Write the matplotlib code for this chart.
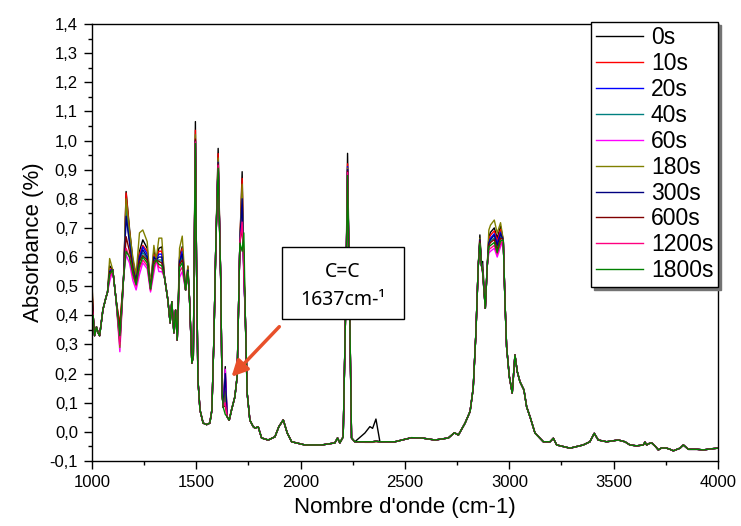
"""
FTIR spectra of the resin during curing (absorbance vs wavenumber)
"""

import numpy as np
import matplotlib
matplotlib.use('Agg')
import matplotlib.pyplot as plt
from matplotlib.patches import Rectangle
from matplotlib.ticker import MultipleLocator, FuncFormatter

plt.rcParams['font.family'] = ['Liberation Sans', 'DejaVu Sans']

# Shared spectrum (0s curve outside the zones that move)
wavenumber = [1000, 1006, 1013, 1022, 1030, 1037, 1053, 1067, 1075, 1085, 1100, 1116, 1134, 1152, 1164,
              1180, 1196, 1212, 1228, 1244, 1265, 1281, 1297, 1308, 1321, 1335, 1348, 1364, 1375, 1383,
              1393, 1401, 1409, 1420, 1433, 1449, 1460, 1468, 1479, 1486, 1491, 1496, 1501, 1508, 1518,
              1533, 1550, 1565, 1575, 1585, 1594, 1605, 1617, 1624, 1629, 1639, 1648, 1658, 1669, 1685,
              1696, 1709, 1720, 1728, 1735, 1744, 1757, 1773, 1781, 1797, 1813, 1845, 1877, 1896, 1917,
              1936, 1957, 2021, 2101, 2164, 2177, 2188, 2204, 2216, 2225, 2235, 2244, 2260, 2308, 2332,
              2345, 2361, 2380, 2452, 2532, 2580, 2644, 2708, 2737, 2756, 2788, 2812, 2827, 2840, 2851,
              2859, 2867, 2872, 2885, 2894, 2902, 2910, 2928, 2942, 2958, 2971, 2979, 2987, 3000, 3014,
              3027, 3038, 3051, 3070, 3083, 3100, 3123, 3163, 3195, 3211, 3227, 3291, 3354, 3386, 3407,
              3426, 3466, 3522, 3554, 3578, 3610, 3642, 3650, 3658, 3670, 3682, 3700, 3714, 3730, 3754,
              3770, 3786, 3818, 3834, 3858, 3900, 3930, 3970, 4000]
absorbance_base = [0.49, 0.40, 0.33, 0.36, 0.34, 0.33, 0.42, 0.46, 0.48, 0.57, 0.556, 0.453, 0.315, 0.532, 0.825,
                   0.70, 0.59, 0.53, 0.62, 0.659, 0.63, 0.50, 0.62, 0.59, 0.63, 0.635, 0.53, 0.453, 0.374, 0.447,
                   0.34, 0.418, 0.315, 0.60, 0.636, 0.487, 0.567, 0.453, 0.236, 0.26, 0.65, 1.065, 0.60, 0.18, 0.075,
                   0.03, 0.025, 0.03, 0.075, 0.33, 0.648, 0.973, 0.533, 0.133, 0.085, 0.224, 0.052, 0.04, 0.075, 0.12,
                   0.19, 0.648, 0.893, 0.55, 0.40, 0.133, 0.04, 0.018, 0.013, 0.017, -0.021, -0.028, -0.017, 0.018, 0.041,
                   -0.004, -0.034, -0.045, -0.045, -0.038, -0.021, -0.038, -0.017, 0.43, 0.956, 0.43, -0.021, -0.034, -0.034, -0.034,
                   -0.034, -0.032, -0.034, -0.034, -0.02, -0.021, -0.028, -0.021, -0.003, -0.011, 0.03, 0.07, 0.15, 0.34, 0.567,
                   0.676, 0.57, 0.585, 0.424, 0.567, 0.67, 0.685, 0.70, 0.665, 0.705, 0.659, 0.453, 0.292, 0.19, 0.133,
                   0.264, 0.207, 0.172, 0.144, 0.086, 0.05, -0.004, -0.034, -0.034, -0.022, -0.045, -0.056, -0.045, -0.034, -0.005,
                   -0.028, -0.034, -0.028, -0.034, -0.045, -0.048, -0.045, -0.035, -0.045, -0.04, -0.038, -0.05, -0.062, -0.055, -0.056,
                   -0.06, -0.065, -0.056, -0.045, -0.06, -0.06, -0.062, -0.058, -0.056]

# Wavenumbers where the curves separate, and each curve's value there
wn_var = [1000, 1085, 1134, 1164, 1180, 1196, 1212, 1228, 1244, 1265, 1281, 1297, 1321, 1335, 1420, 1433, 1460,
          1496, 1605, 1639, 1720, 1728, 2225, 2308, 2332, 2345, 2361, 2859, 2872, 2902, 2910, 2928, 2942, 2958]

abs_0s = [0.49, 0.57, 0.315, 0.825, 0.70, 0.59, 0.53, 0.62, 0.659, 0.63, 0.50, 0.62, 0.63, 0.635, 0.60, 0.636, 0.567,
          1.065, 0.973, 0.224, 0.893, 0.55, 0.956, -0.004, 0.018, 0.012, 0.044, 0.676, 0.585, 0.67, 0.685, 0.70, 0.665, 0.705]
abs_10s = [0.50, 0.56, 0.37, 0.82, 0.69, 0.58, 0.53, 0.61, 0.64, 0.62, 0.50, 0.61, 0.62, 0.62, 0.595, 0.63, 0.565,
           1.035, 0.955, 0.19, 0.87, 0.56, 0.92, -0.034, -0.034, -0.034, -0.032, 0.66, 0.56, 0.66, 0.675, 0.69, 0.655, 0.695]
abs_20s = [0.46, 0.555, 0.32, 0.745, 0.66, 0.565, 0.52, 0.60, 0.635, 0.61, 0.50, 0.60, 0.61, 0.61, 0.59, 0.62, 0.56,
           1.0, 0.93, 0.17, 0.807, 0.55, 0.91, -0.034, -0.034, -0.034, -0.032, 0.655, 0.555, 0.655, 0.665, 0.68, 0.645, 0.685]
abs_40s = [0.45, 0.55, 0.33, 0.78, 0.67, 0.57, 0.52, 0.59, 0.615, 0.595, 0.495, 0.59, 0.59, 0.59, 0.58, 0.60, 0.555,
           1.0, 0.925, 0.15, 0.78, 0.55, 0.90, -0.034, -0.034, -0.034, -0.032, 0.65, 0.55, 0.645, 0.655, 0.665, 0.63, 0.67]
abs_60s = [0.41, 0.515, 0.275, 0.607, 0.58, 0.52, 0.487, 0.54, 0.58, 0.56, 0.48, 0.545, 0.55, 0.55, 0.53, 0.55, 0.54,
           0.995, 0.92, 0.215, 0.76, 0.52, 0.895, -0.036, -0.036, -0.036, -0.034, 0.64, 0.545, 0.614, 0.62, 0.63, 0.60, 0.635]
abs_180s = [0.53, 0.595, 0.29, 0.80, 0.69, 0.60, 0.54, 0.683, 0.693, 0.653, 0.50, 0.64, 0.665, 0.665, 0.63, 0.672, 0.57,
            1.02, 0.94, 0.14, 0.85, 0.57, 0.905, -0.036, -0.036, -0.036, -0.034, 0.665, 0.56, 0.693, 0.71, 0.727, 0.682, 0.718]
abs_300s = [0.47, 0.55, 0.31, 0.74, 0.65, 0.56, 0.52, 0.595, 0.625, 0.60, 0.49, 0.60, 0.60, 0.60, 0.585, 0.61, 0.555,
            1.0, 0.925, 0.20, 0.80, 0.55, 0.90, -0.034, -0.034, -0.034, -0.032, 0.66, 0.555, 0.65, 0.66, 0.675, 0.64, 0.68]
abs_600s = [0.52, 0.545, 0.36, 0.67, 0.62, 0.56, 0.51, 0.585, 0.605, 0.59, 0.49, 0.585, 0.585, 0.58, 0.575, 0.59, 0.55,
            1.005, 0.92, 0.09, 0.70, 0.60, 0.895, -0.034, -0.034, -0.034, -0.032, 0.655, 0.55, 0.64, 0.65, 0.66, 0.625, 0.665]
abs_1200s = [0.43, 0.53, 0.30, 0.63, 0.60, 0.535, 0.50, 0.56, 0.59, 0.57, 0.485, 0.56, 0.565, 0.56, 0.55, 0.565, 0.545,
             0.995, 0.915, 0.10, 0.72, 0.55, 0.89, -0.034, -0.034, -0.034, -0.032, 0.645, 0.55, 0.625, 0.63, 0.64, 0.61, 0.645]
abs_1800s = [0.40, 0.54, 0.33, 0.62, 0.60, 0.545, 0.505, 0.57, 0.60, 0.58, 0.49, 0.575, 0.575, 0.57, 0.565, 0.58, 0.55,
             0.99, 0.905, 0.06, 0.62, 0.683, 0.88, -0.034, -0.034, -0.034, -0.032, 0.648, 0.55, 0.635, 0.64, 0.65, 0.615, 0.655]

labels = ['0s', '10s', '20s', '40s', '60s', '180s', '300s', '600s', '1200s', '1800s']
colors = ['#000000', '#FF0000', '#0000FF', '#008080', '#FF00FF',
          '#808000', '#000080', '#800000', '#FF0080', '#008000']
series = [abs_0s, abs_10s, abs_20s, abs_40s, abs_60s, abs_180s, abs_300s, abs_600s, abs_1200s, abs_1800s]

x = np.array(wavenumber, dtype=float)
idx = [wavenumber.index(w) for w in wn_var]

fig = plt.figure(figsize=(7.41, 5.26), dpi=100)
ax = fig.add_axes([0.124, 0.1236, 0.845, 0.8308])

for lab, col, vals in zip(labels, colors, series):
    y = np.array(absorbance_base, dtype=float)
    y[idx] = vals
    ax.plot(x, y, color=col, lw=1.0, label=lab)

ax.set_xlim(1000, 4000)
ax.set_ylim(-0.1, 1.4)
ax.xaxis.set_major_locator(MultipleLocator(500))
ax.xaxis.set_minor_locator(MultipleLocator(250))
ax.yaxis.set_major_locator(MultipleLocator(0.1))
ax.yaxis.set_minor_locator(MultipleLocator(0.05))
ax.yaxis.set_major_formatter(FuncFormatter(lambda v, p: f'{v:.1f}'.replace('.', ',').replace('-0,0', '0,0')))

ax.tick_params(which='major', direction='out', length=6, width=1, labelsize=12, pad=4)
ax.tick_params(which='minor', direction='out', length=3, width=1)
for s in ax.spines.values():
    s.set_linewidth(1)

ax.set_xlabel('Nombre d\'onde (cm-1)', fontsize=16, labelpad=5)
ax.set_ylabel('Absorbance (%)', fontsize=16, labelpad=4)

leg = ax.legend(loc='upper right', bbox_to_anchor=(1.0, 1.005), borderaxespad=0,
                fontsize=16.5, frameon=True, fancybox=False, framealpha=1,
                edgecolor='black', handlelength=2.05, handletextpad=0.35,
                labelspacing=0.125, borderpad=0.2,
                shadow={'color': '0.45', 'alpha': 1})
leg.get_frame().set_linewidth(1)

# annotation box for the C=C band
ax.add_patch(Rectangle((0.3035, 0.325), 0.195, 0.165, transform=ax.transAxes,
                       facecolor='white', edgecolor='black', lw=1, zorder=5))
ax.text(0.4005, 0.4325, 'C=C', transform=ax.transAxes, ha='center', va='center',
        fontsize=14, family=['Noto Sans', 'DejaVu Sans'], zorder=6)
ax.text(0.4005, 0.368, '1637cm-\u00b9', transform=ax.transAxes, ha='center', va='center',
        fontsize=14, family=['Noto Sans', 'DejaVu Sans'], zorder=6)
ax.annotate('', xy=(1669, 0.189), xytext=(1898, 0.361),
            arrowprops=dict(arrowstyle='-|>', color='#E8502A', lw=2.5, mutation_scale=24,
                            shrinkA=0, shrinkB=0), zorder=6)

plt.savefig('out.png', dpi=100, facecolor='white')
plt.close()
